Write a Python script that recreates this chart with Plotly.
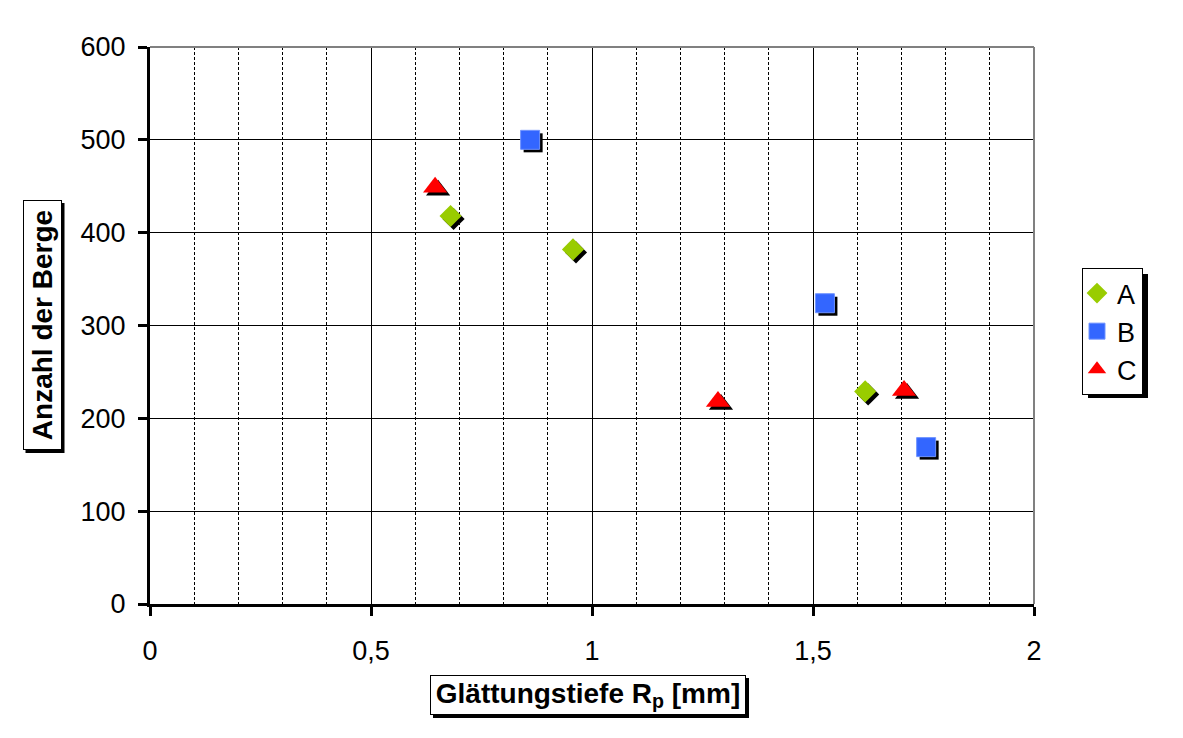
import plotly.graph_objects as go

# Data
series_names = ["A", "B", "C"]
a_x = [0.68, 0.957, 1.618]
a_y = [418, 382, 229]
b_x = [0.86, 1.527, 1.756]
b_y = [500, 324, 169]
c_x = [0.645, 1.285, 1.706]
c_y = [449, 218, 230]

x_tickvals = [0, 0.5, 1, 1.5, 2]
y_tickvals = [0, 100, 200, 300, 400, 500, 600]

OFF = 8  # html body margin
W, H = 1167, 722
# plot area in page pixels: x 150..1034, y 47..604
PX0, PX1, PY0, PY1 = 150, 1034, 47, 604
L, T = PX0 - OFF, PY0 - OFF
R, B = W - (PX1 - OFF), H - (PY1 - OFF)
pw, ph = PX1 - PX0, PY1 - PY0
xr = [0, 2]
yr = [0, 600]
sh = 3  # shadow offset px
dx = sh * (xr[1] - xr[0]) / pw
dy = sh * (yr[1] - yr[0]) / ph

styles = [
    dict(symbol="diamond", color="#99CC00", size=17, line=dict(width=0)),
    dict(symbol="square", color="#3366FF", size=19, line=dict(width=1, color="#6F93FF")),
    dict(symbol="triangle-up", color="#FF0000", size=21, line=dict(width=0)),
]
data = [(a_x, a_y), (b_x, b_y), (c_x, c_y)]

fig = go.Figure()
# empty trace so the main (visible) axes are drawn
fig.add_trace(go.Scatter(x=[], y=[], mode="markers", showlegend=False, hoverinfo="skip"))
# shadows
for (xs, ys), st in zip(data, styles):
    fig.add_trace(go.Scatter(x=xs, y=ys, mode="markers", xaxis="x2", yaxis="y2",
                             marker=dict(symbol=st["symbol"], size=st["size"], color="black",
                                         line=dict(width=0)),
                             showlegend=False, hoverinfo="skip"))
# real markers
for name, (xs, ys), st in zip(series_names, data, styles):
    fig.add_trace(go.Scatter(x=xs, y=ys, mode="markers", name=name, xaxis="x3", yaxis="y3",
                             marker=dict(symbol=st["symbol"], size=st["size"], color=st["color"],
                                         line=st["line"])))

font = "Liberation Sans, Arial, sans-serif"
hidden = dict(visible=False, showgrid=False, zeroline=False, fixedrange=True)

def px2paper_x(p):
    return (p - PX0) / pw

def px2paper_y(p):
    return (PY1 - p) / ph

fig.update_layout(
    width=W, height=H,
    margin=dict(l=L, r=R, t=T, b=B, autoexpand=False),
    paper_bgcolor="white", plot_bgcolor="white",
    separators=",.",
    font=dict(family=font, size=27, color="black"),
    xaxis=dict(range=xr, tickvals=x_tickvals, showgrid=True, gridcolor="black", gridwidth=1,
               minor=dict(dtick=0.1, showgrid=True, gridcolor="black", griddash="3px,2px",
                          gridwidth=1, ticks=""),
               showline=True, linecolor="black", linewidth=3, ticks="outside", ticklen=9,
               tickwidth=3, tickcolor="black", zeroline=False, ticklabelstandoff=12,
               tickfont=dict(size=27)),
    yaxis=dict(range=yr, tickvals=y_tickvals, showgrid=True, gridcolor="black", gridwidth=1,
               showline=True, linecolor="black", linewidth=3, ticks="outside", ticklen=9,
               tickwidth=3, tickcolor="black", zeroline=False, ticklabelstandoff=7,
               tickfont=dict(size=27)),
    xaxis2=dict(range=[xr[0] - dx, xr[1] - dx], overlaying="x", **hidden),
    yaxis2=dict(range=[yr[0] + dy, yr[1] + dy], overlaying="y", **hidden),
    xaxis3=dict(range=xr, overlaying="x", **hidden),
    yaxis3=dict(range=yr, overlaying="y", **hidden),
    legend=dict(x=px2paper_x(1082), y=px2paper_y(268), xanchor="left", yanchor="top",
                bordercolor="black", borderwidth=1, bgcolor="white",
                font=dict(size=27, family=font), tracegroupgap=0, itemwidth=30,
                indentation=-6),
    showlegend=True,
)

# plot border top/right (gray)
fig.add_shape(type="line", xref="paper", yref="paper", x0=0, x1=1, y0=1, y1=1,
              line=dict(color="#808080", width=2))
fig.add_shape(type="line", xref="paper", yref="paper", x0=1, x1=1, y0=0, y1=1,
              line=dict(color="#808080", width=2))
# legend shadow
fig.add_shape(type="rect", xref="paper", yref="paper", layer="above",
              x0=px2paper_x(1088), x1=px2paper_x(1148), y0=px2paper_y(398), y1=px2paper_y(274),
              fillcolor="black", line=dict(width=0))

def boxed(text, cx, cy, bw, bh, angle=0):
    # shadow rect (page pixel box offset by 3 px)
    if angle == 0:
        x0, x1, y0, y1 = cx - bw / 2, cx + bw / 2, cy - bh / 2, cy + bh / 2
    else:
        x0, x1, y0, y1 = cx - bh / 2, cx + bh / 2, cy - bw / 2, cy + bw / 2
    fig.add_shape(type="rect", xref="paper", yref="paper",
                  x0=px2paper_x(x0 + sh), x1=px2paper_x(x1 + sh),
                  y0=px2paper_y(y1 + sh), y1=px2paper_y(y0 + sh),
                  fillcolor="black", line=dict(width=0))
    fig.add_annotation(text=text, xref="paper", yref="paper", x=px2paper_x(cx), y=px2paper_y(cy),
                       xanchor="center", yanchor="middle",
                       showarrow=False, textangle=angle, width=bw - 2, height=bh - 2,
                       font=dict(family=font, size=28, color="black"),
                       bgcolor="white", bordercolor="black", borderwidth=1, borderpad=0)

boxed("<b>Glättungstiefe R<sub>p</sub> [mm]</b>", 588, 695, 316, 40)
boxed("<b>Anzahl der Berge</b>", 42, 325, 250, 39, angle=-90)

fig.write_html("out.html")
